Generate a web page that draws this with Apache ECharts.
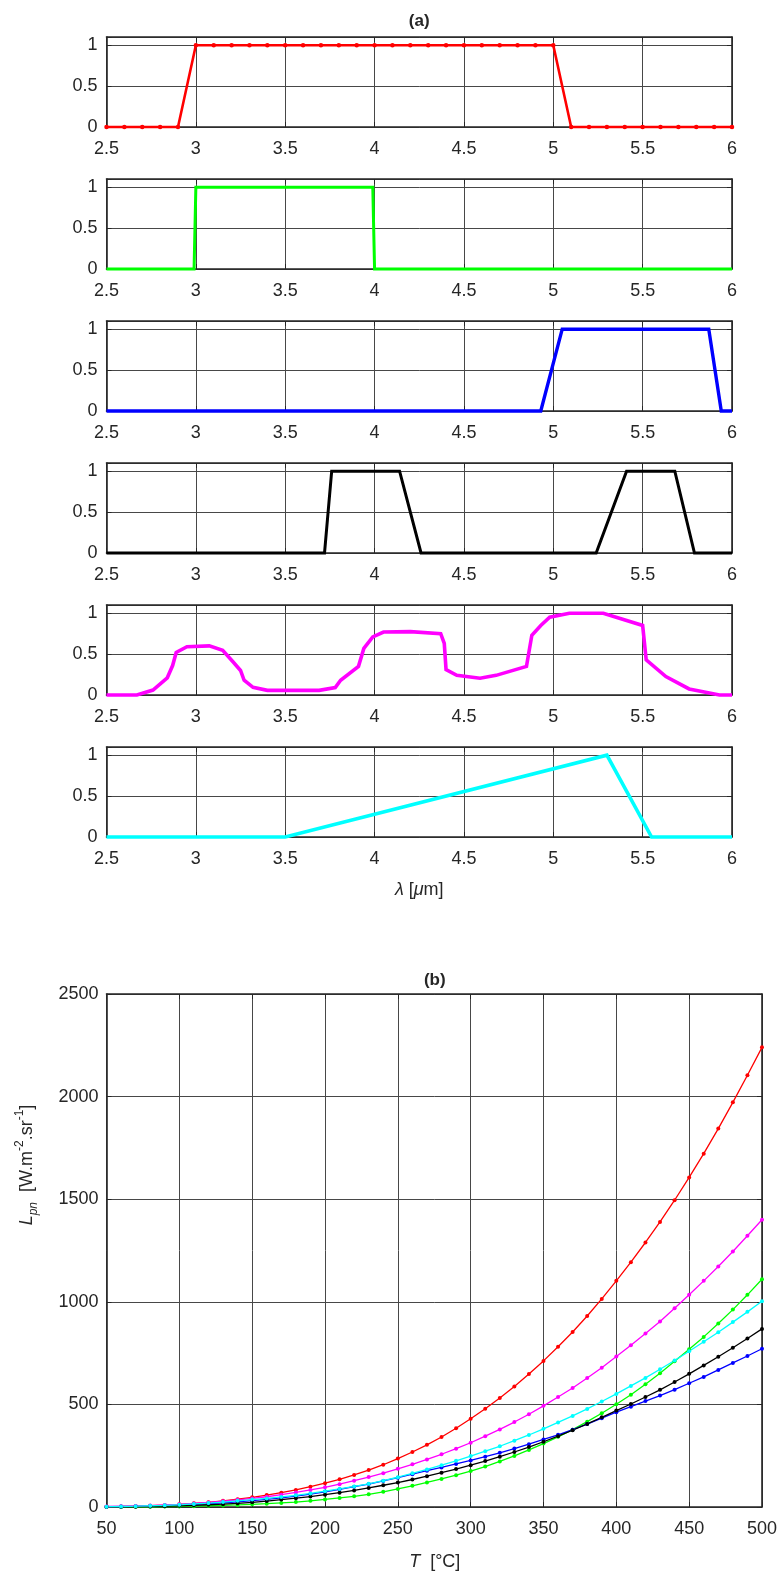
<!DOCTYPE html>
<html>
<head>
<meta charset="utf-8">
<script src="https://cdn.jsdelivr.net/npm/echarts@6/dist/echarts.min.js"></script>
<style>
  html, body { margin: 0; padding: 0; background: #fff; }
  #chart { width: 780px; height: 1575px; }
</style>
</head>
<body>
<div id="chart"></div>
<script>
// ---- (a) spectral band responses, wavelength in micrometres ----
const bandRedX = [2.5, 2.6, 2.7, 2.8, 2.9, 3.0, 3.1, 3.2, 3.3, 3.4, 3.5, 3.6, 3.7, 3.8, 3.9, 4.0, 4.1, 4.2,
                  4.3, 4.4, 4.5, 4.6, 4.7, 4.8, 4.9, 5.0, 5.1, 5.2, 5.3, 5.4, 5.5, 5.6, 5.7, 5.8, 5.9, 6.0];
const bandRedY = [0, 0, 0, 0, 0, 1, 1, 1, 1, 1, 1, 1, 1, 1, 1, 1, 1, 1,
                  1, 1, 1, 1, 1, 1, 1, 1, 0, 0, 0, 0, 0, 0, 0, 0, 0, 0];

const bandGreenX = [2.5, 2.99, 3.0, 3.99, 4.0, 6.0];
const bandGreenY = [0, 0, 1, 1, 0, 0];

const bandBlueX = [2.5, 4.93, 5.05, 5.87, 5.94, 6.0];
const bandBlueY = [0, 0, 1, 1, 0, 0];

const bandBlackX = [2.5, 3.72, 3.76, 4.14, 4.26, 5.24, 5.41, 5.68, 5.79, 6.0];
const bandBlackY = [0, 0, 1, 1, 0, 0, 1, 1, 0, 0];

const bandMagentaX = [2.5, 2.67, 2.76, 2.84, 2.87, 2.89, 2.95, 3.075, 3.15, 3.21, 3.25, 3.27, 3.32, 3.40,
                      3.69, 3.78, 3.81, 3.91, 3.94, 3.99, 4.05, 4.20, 4.37, 4.39, 4.40, 4.46, 4.59, 4.68,
                      4.85, 4.88, 4.93, 4.98, 5.09, 5.28, 5.50, 5.52, 5.63, 5.76, 5.93, 6.0];
const bandMagentaY = [0, 0, 0.06, 0.21, 0.36, 0.52, 0.59, 0.60, 0.545, 0.40, 0.30, 0.18, 0.094, 0.057,
                      0.057, 0.09, 0.18, 0.35, 0.57, 0.71, 0.77, 0.775, 0.75, 0.63, 0.31, 0.24, 0.205, 0.24,
                      0.35, 0.73, 0.85, 0.95, 1.0, 1.0, 0.85, 0.43, 0.225, 0.074, 0, 0];

const bandCyanX = [2.5, 3.5, 5.3, 5.55, 6.0];
const bandCyanY = [0, 0, 1, 0, 0];

const lambdaTicks = [2.5, 3, 3.5, 4, 4.5, 5, 5.5, 6];
const responseTicks = [0, 0.5, 1];

// ---- (b) band radiance versus temperature ----
const tempC = [50, 60, 70, 80, 90, 100, 110, 120, 130, 140, 150, 160, 170, 180, 190, 200, 210, 220, 230, 240,
               250, 260, 270, 280, 290, 300, 310, 320, 330, 340, 350, 360, 370, 380, 390, 400, 410, 420, 430, 440,
               450, 460, 470, 480, 490, 500];
const radRed = [1.5, 2.5, 4, 6, 9, 13, 18, 23, 30, 38, 47, 58, 70, 83, 99, 116, 135, 156, 180, 206,
                236, 268, 303, 341, 384, 430, 479, 531, 587, 648, 712, 781, 853, 931, 1014, 1102, 1193, 1289, 1389, 1495,
                1606, 1722, 1844, 1972, 2104, 2240];
const radGreen = [0.3, 0.5, 0.8, 1.3, 2, 3, 4, 6, 7.5, 10, 13, 16, 20, 24, 30, 37, 44, 52, 62, 74,
                  88, 103, 120, 137, 155, 175, 197, 222, 249, 278, 309, 342, 377, 416, 457, 501, 547, 598, 652, 710,
                  769, 829, 894, 962, 1034, 1110];
const radBlue = [1.5, 2.5, 3.5, 5, 7, 9, 12, 16, 20, 25, 31, 37, 44, 53, 63, 74, 86, 99, 112, 127,
                 143, 160, 177, 193, 210, 227, 245, 264, 285, 306, 329, 352, 377, 404, 433, 462, 489, 516, 543, 572,
                 603, 634, 668, 702, 736, 771];
const radBlack = [0.8, 1.2, 1.8, 2.6, 4, 6, 8, 11, 14, 18, 23, 29, 36, 43, 51, 60, 70, 81, 93, 106,
                  119, 134, 150, 167, 185, 204, 224, 245, 268, 292, 318, 345, 374, 405, 437, 470, 502, 536, 571, 609,
                  649, 690, 732, 776, 821, 868];
const radMagenta = [2.5, 3.5, 5, 7, 10, 13, 17, 22, 28, 35, 42, 50, 60, 71, 83, 96, 111, 128, 146, 165,
                    186, 208, 232, 257, 284, 313, 345, 378, 414, 452, 493, 536, 580, 629, 679, 733, 788, 845, 904, 969,
                    1034, 1102, 1172, 1245, 1322, 1400];
const radCyan = [1.5, 2.5, 4, 6, 8, 11, 15, 19, 24, 30, 36, 42, 49, 57, 66, 77, 88, 100, 113, 128,
                 145, 164, 183, 204, 225, 248, 272, 296, 323, 351, 381, 412, 444, 478, 514, 551, 590, 629, 671, 714,
                 759, 805, 852, 901, 951, 1003];

const tempTicks = [50, 100, 150, 200, 250, 300, 350, 400, 450, 500];
const radianceTicks = [0, 500, 1000, 1500, 2000, 2500];

// ---- layout and styling ----
const FONT = '"Liberation Sans", Arial, Helvetica, sans-serif';
const INK = '#262626';
const GRID_LINE = '#474747';
const TICK_FONT = 18;
const LABEL_FONT = 18;

const bands = [
  { x: bandRedX, y: bandRedY, color: '#ff0000', width: 2.6, marks: true },
  { x: bandGreenX, y: bandGreenY, color: '#00ff00', width: 3, marks: false },
  { x: bandBlueX, y: bandBlueY, color: '#0000ff', width: 3.4, marks: false },
  { x: bandBlackX, y: bandBlackY, color: '#000000', width: 3, marks: false },
  { x: bandMagentaX, y: bandMagentaY, color: '#ff00ff', width: 3.6, marks: false },
  { x: bandCyanX, y: bandCyanY, color: '#00ffff', width: 3.6, marks: false }
];

const curves = [
  { y: radRed, color: '#ff0000' },
  { y: radGreen, color: '#00ff00' },
  { y: radBlue, color: '#0000ff' },
  { y: radBlack, color: '#000000' },
  { y: radMagenta, color: '#ff00ff' },
  { y: radCyan, color: '#00ffff' }
];

const PANEL_LEFT = 106.5, PANEL_RIGHT = 732, PANEL_TOP = 37, PANEL_STEP = 142, PANEL_H = 90;
const B_LEFT = 106.5, B_RIGHT = 763, B_TOP = 994, B_BOTTOM = 1507;

const grids = [], xAxes = [], yAxes = [], series = [];

function axisBase(extra) {
  return Object.assign({
    axisLine: { show: true, onZero: false, lineStyle: { color: INK, width: 1.6 } },
    axisTick: { show: true, inside: true, length: 5, lineStyle: { color: INK, width: 1 } },
    axisLabel: { show: false },
    splitLine: { show: false }
  }, extra);
}

function addFrame(gridIndex, xr, yr) {
  // bottom x axis with labels and grid lines, plus a bare top axis closing the box
  xAxes.push(axisBase({
    type: 'value', gridIndex, position: 'bottom', min: xr.min, max: xr.max, interval: xr.interval,
    axisLabel: { show: true, margin: xr.margin, color: INK, fontSize: TICK_FONT, fontFamily: FONT,
                 formatter: v => (xr.ticks.some(t => Math.abs(t - v) < 1e-9) ? String(v) : '') },
    splitLine: { show: true, lineStyle: { color: GRID_LINE, width: 1 } }
  }));
  xAxes.push(axisBase({ type: 'value', gridIndex, position: 'top', min: xr.min, max: xr.max, interval: xr.interval }));
  yAxes.push(axisBase({
    type: 'value', gridIndex, position: 'left', min: yr.min, max: yr.max, interval: yr.interval,
    axisLabel: { show: true, margin: yr.margin, color: INK, fontSize: TICK_FONT, fontFamily: FONT,
                 formatter: v => (yr.ticks.some(t => Math.abs(t - v) < 1e-9) ? String(v) : '') },
    splitLine: { show: true, lineStyle: { color: GRID_LINE, width: 1 } }
  }));
  yAxes.push(axisBase({ type: 'value', gridIndex, position: 'right', min: yr.min, max: yr.max, interval: yr.interval }));
}

// six stacked band panels
bands.forEach((b, i) => {
  grids.push({ left: PANEL_LEFT, width: PANEL_RIGHT - PANEL_LEFT, top: PANEL_TOP + PANEL_STEP * i, height: PANEL_H });
  addFrame(i,
    { min: 2.5, max: 6, interval: 0.5, ticks: lambdaTicks, margin: 13 },
    { min: 0, max: 1.1, interval: 0.5, ticks: responseTicks, margin: 9 });
  series.push({
    type: 'line', xAxisIndex: 2 * i, yAxisIndex: 2 * i, clip: false, animation: false,
    data: b.x.map((v, k) => [v, b.y[k]]),
    showSymbol: b.marks, symbol: 'circle', symbolSize: 4.5,
    itemStyle: { color: b.color },
    lineStyle: { color: b.color, width: b.width, join: 'miter' },
    z: 3
  });
});

// radiance panel
const gb = bands.length;
grids.push({ left: B_LEFT, width: B_RIGHT - B_LEFT, top: B_TOP, height: B_BOTTOM - B_TOP });
addFrame(gb,
  { min: 50, max: 500, interval: 50, ticks: tempTicks, margin: 13 },
  { min: 0, max: 2500, interval: 500, ticks: radianceTicks, margin: 8 });
curves.forEach(c => {
  series.push({
    type: 'line', xAxisIndex: 2 * gb, yAxisIndex: 2 * gb, clip: false, animation: false,
    data: tempC.map((t, k) => [t, c.y[k]]),
    showSymbol: true, symbol: 'circle', symbolSize: 4,
    itemStyle: { color: c.color },
    lineStyle: { color: c.color, width: 1.3 },
    z: 3
  });
});

const textBase = { fontFamily: FONT, fill: INK, fontSize: LABEL_FONT };
const italic = { fontStyle: 'italic', fontFamily: FONT, fontSize: LABEL_FONT, fill: INK };
const graphic = [
  { type: 'text', x: (PANEL_LEFT + PANEL_RIGHT) / 2, y: 21,
    style: Object.assign({}, textBase, { text: '(a)', fontWeight: 'bold', fontSize: 17, align: 'center', verticalAlign: 'middle' }) },
  { type: 'text', x: (B_LEFT + B_RIGHT) / 2, y: 980,
    style: Object.assign({}, textBase, { text: '(b)', fontWeight: 'bold', fontSize: 17, align: 'center', verticalAlign: 'middle' }) },
  { type: 'text', x: (PANEL_LEFT + PANEL_RIGHT) / 2, y: 890,
    style: Object.assign({}, textBase, {
      text: '{i|λ} [{i|μ}m]', align: 'center', verticalAlign: 'middle', rich: { i: italic }
    }) },
  { type: 'text', x: (B_LEFT + B_RIGHT) / 2, y: 1562,
    style: Object.assign({}, textBase, {
      text: '{i|T}  [°C]', align: 'center', verticalAlign: 'middle', rich: { i: italic }
    }) },
  { type: 'text', x: 27, y: 1165, rotation: Math.PI / 2,
    style: Object.assign({}, textBase, {
      text: '{i|L}{sub|pn}  [W.m{sup|-2}.sr{sup|-1}]', align: 'center', verticalAlign: 'middle',
      rich: {
        i: Object.assign({}, italic, { lineHeight: 26 }),
        sub: { fontStyle: 'italic', fontFamily: FONT, fontSize: 12, fill: INK, verticalAlign: 'bottom', lineHeight: 26 },
        sup: { fontFamily: FONT, fontSize: 12, fill: INK, verticalAlign: 'top', lineHeight: 26 }
      }
    }) }
];

const chart = echarts.init(document.getElementById('chart'), null, { renderer: 'canvas' });
chart.setOption({
  animation: false,
  backgroundColor: '#ffffff',
  grid: grids,
  xAxis: xAxes,
  yAxis: yAxes,
  series: series,
  graphic: graphic
});
</script>
</body>
</html>
